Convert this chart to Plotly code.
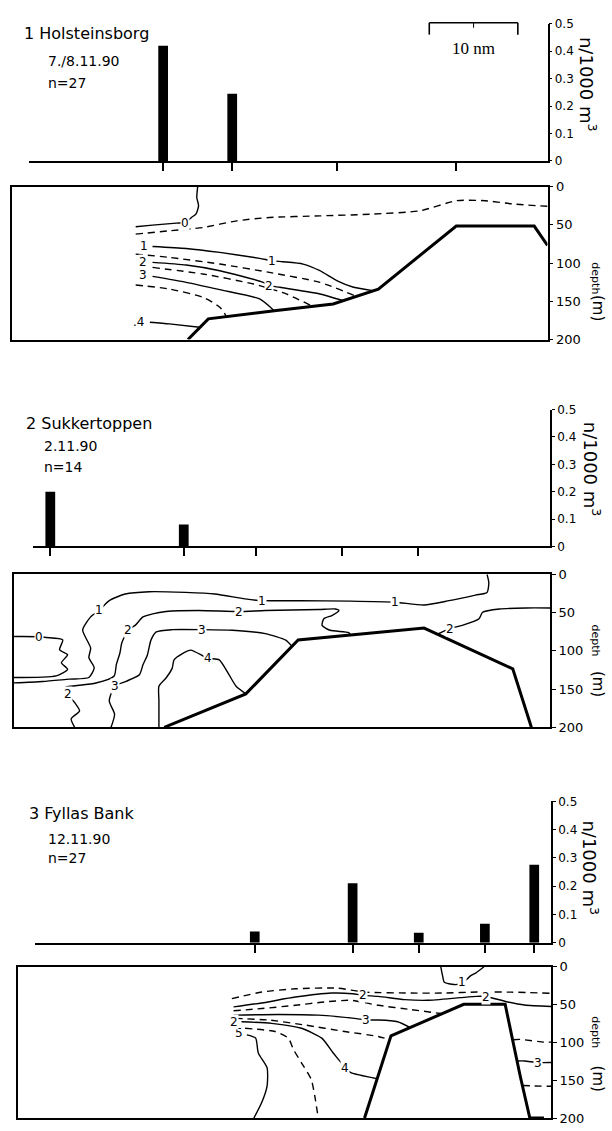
import plotly.graph_objects as go

W, H = 612, 1131
XMAX = 60.5          # section length (nm)
FONT = "DejaVu Sans"

# ---------------- Panel 1: Holsteinsborg ----------------
p1_title = "1 Holsteinsborg"
p1_date = "7./8.11.90"
p1_n = "n=27"
p1_stations = [17.1, 24.9, 36.7, 50.2]
p1_counts = [0.42, 0.245, 0.0, 0.0]

p1_bottom_x = [19.9, 22.2, 29.9, 36.3, 41.4, 50.2, 59.0, 60.5]
p1_bottom_d = [200, 173, 162, 153.5, 134, 51.6, 51.6, 77]

p1_c0_x = [21.0, 20.9, 21.1, 20.8, 20.3, 19.6, 18.6, 15.9, 14.0]
p1_c0_d = [0, 14.3, 25.2, 36, 40.4, 47, 47.8, 50.4, 52.6]
p1_c05_x = [14.0, 17.8, 21.6, 25.4, 29.1, 34.8, 40.5, 46.1, 50.2, 53.5, 56.6, 60.5]
p1_c05_d = [62.2, 57.8, 53.5, 44.8, 40.4, 38.3, 36.1, 31.7, 18.5, 18.5, 22.8, 25.8]
p1_c1_x = [15.9, 19.7, 23.5, 28.0, 29.4, 30.6, 32.9, 34.8, 36.7, 38.6, 40.8]
p1_c1_d = [78.3, 80.9, 86.1, 93.9, 97, 98.3, 101.3, 110, 123, 131.7, 136]
p1_c15_x = [14.0, 17.8, 23.5, 29.1, 34.8, 38.8]
p1_c15_d = [88.3, 92.6, 101.3, 112.2, 125.2, 143]
p1_c2_x = [15.9, 19.7, 23.5, 28.4, 29.1, 30.3, 34.8, 37.4]
p1_c2_d = [99.1, 102.6, 110, 125.2, 129.6, 131.7, 140.4, 149]
p1_c25_x = [15.9, 21.6, 27.3, 31.0, 33.7]
p1_c25_d = [105.7, 114.3, 127.4, 140.4, 155]
p1_c3_x = [15.9, 19.7, 23.5, 28.0, 29.6]
p1_c3_d = [117.4, 125.2, 134.8, 147, 162]
p1_c35_x = [14.0, 17.8, 21.6, 23.5, 24.2]
p1_c35_d = [128.7, 133.9, 144.8, 157.8, 169]
p1_c4_x = [15.6, 17.8, 21.2]
p1_c4_d = [177.4, 179.6, 183.9]

p1_lab_text = ["0", "1", "1", "2", "2", "3", ".4"]
p1_lab_x = [19.6, 14.9, 29.4, 14.8, 29.1, 14.8, 14.3]
p1_lab_d = [47, 77.4, 97, 99.1, 129.6, 115.7, 176.5]

# ---------------- Panel 2: Sukkertoppen ----------------
p2_title = "2 Sukkertoppen"
p2_date = "2.11.90"
p2_n = "n=14"
p2_stations = [4.15, 19.2, 27.3, 37.0, 45.6]
p2_counts = [0.20, 0.08, 0.0, 0.0, 0.0]

p2_bottom_x = [17.0, 26.2, 32.1, 46.3, 56.3, 58.4]
p2_bottom_d = [200, 156.3, 85.7, 70.2, 123.5, 200]

p2_c0_x = [0, 2.87, 3.7, 5.55, 5.2, 6.1, 5.4, 6.1, 4.8, 0]
p2_c0_d = [81.3, 81.5, 82.5, 85.6, 98.5, 105, 115.6, 124.2, 132.7, 134.9]
p2_c1_x = [0, 3.3, 6.3, 8.5, 9.1, 8.5, 8.7, 7.8, 8.7, 9.66, 10.8, 12.6, 15.3, 19.4, 22.7,
           26.1, 28.0, 32.2, 38.0, 43.0, 46.3, 49.1, 52.1, 53.4, 53.6, 53.4]
p2_c1_d = [141.9, 140, 137, 134.9, 122, 109, 96.3, 72.8, 55.6, 47.1, 34.3, 25.7, 22.7, 23.6, 25.7,
           32.1, 34.3, 34.4, 35, 36.4, 40, 34.4, 27.1, 23.7, 10.8, 0]
p2_c2_x = [6.9, 6.5, 7.45, 6.9, 6.1, 5.8, 6.7, 9.3, 11.35, 11.6, 12.0, 12.2, 12.9, 13.75, 14.6,
           15.7, 17.2, 20.9, 25.4, 28.4, 34.4, 36.3, 36.7, 35.9, 35.0, 34.8, 35.7, 37.8, 38.0]
p2_c2_d = [200, 189, 178.5, 167.7, 157, 148, 146, 142, 132.8, 117.8, 102.8, 90, 73.1, 66.4, 55.7,
           51.6, 48.6, 47.3, 48.6, 47.3, 46, 45.2, 47.3, 53.8, 58, 66.7, 73.1, 76.1, 79]
p2_c2r_x = [47.8, 49.2, 50.6, 52.5, 52.9, 54.8, 57.8, 60.5]
p2_c2r_d = [78.3, 71, 66.7, 58, 49.5, 45.2, 43.9, 43.9]
p2_c3_x = [11.0, 11.4, 10.8, 11.4, 12.7, 14.2, 14.6, 15.1, 15.5, 16.1, 17.9, 21.3, 24.7, 28.4, 30.7, 31.4]
p2_c3_d = [200, 182.8, 165.6, 146.2, 139.8, 131.2, 118.3, 105.4, 86, 75.3, 72.3, 72.3, 73.1, 77.4, 86, 94.1]
p2_c4_x = [16.4, 16.4, 16.4, 17.2, 17.9, 18.1, 19.1, 20.0, 21.9, 23.2, 24.3, 25.1, 26.2]
p2_c4_d = [200, 165.6, 146.2, 135.5, 122.6, 111.8, 103.2, 99, 109.7, 111.8, 131.2, 146.2, 156.1]

p2_lab_text = ["0", "1", "1", "1", "2", "2", "2", "2", "3", "3", "4"]
p2_lab_x = [2.87, 9.66, 28.0, 43.0, 6.1, 12.9, 25.4, 49.2, 11.4, 21.3, 21.9]
p2_lab_d = [81.5, 47.1, 34.3, 36.4, 157, 73.1, 48.6, 71, 146.2, 72.3, 109.7]

# ---------------- Panel 3: Fyllas Bank ----------------
p3_title = "3 Fyllas Bank"
p3_date = "12.11.90"
p3_n = "n=27"
p3_stations = [26.9, 38.0, 45.5, 53.0, 58.6]
p3_counts = [0.04, 0.21, 0.035, 0.067, 0.276]

p3_bottom_x = [39.35, 42.35, 50.6, 55.3, 57.0, 58.1, 59.7]
p3_bottom_d = [200, 91.3, 49.6, 49.6, 144, 200, 200]

p3_c1_x = [48.0, 48.2, 48.4, 49.5, 50.4, 51.0, 51.4, 52.0, 52.9]
p3_c1_d = [0, 11.7, 20.4, 23.5, 22, 16, 11.7, 8, 0]
p3_c15_x = [24.3, 27.7, 31.5, 36.3, 39.35, 44.6, 48.4, 52.1, 56.0, 60.5]
p3_c15_d = [42.1, 33.4, 29.1, 28.2, 33.4, 34.7, 34.7, 33.4, 33.5, 35]
p3_c2_x = [24.5, 27.7, 31.5, 35.6, 38.0, 39.2, 40.9, 43.9, 46.5, 50.2, 52.1, 53.1, 55.6, 57.5, 60.5]
p3_c2_d = [53, 47.8, 40, 34.7, 35.6, 37.8, 39.1, 43.4, 44.3, 40.8, 39.1, 39.3, 46.5, 50.5, 52.5]
p3_c25_x = [24.5, 27.7, 31.5, 34.8, 37.8, 40.9, 44.6, 48.0]
p3_c25_d = [58.2, 55.2, 50.9, 46.5, 44.3, 50.9, 56.5, 61.7]
p3_c3_x = [24.5, 29.6, 34.1, 38.2, 39.5, 40.9, 43.1, 44.5]
p3_c3_d = [63.9, 63, 63.9, 68.2, 70.4, 70.4, 72.6, 80]
p3_c35_x = [24.7, 28.5, 32.6, 37.1, 40.9, 42.2]
p3_c35_d = [68.2, 70.4, 77, 85.6, 92.1, 96.5]
p3_c4_x = [25.4, 28.8, 32.2, 34.5, 35.8, 36.7, 37.1, 37.8, 40.8]
p3_c4_d = [72.6, 74.8, 81.3, 94.3, 113.9, 126.9, 133.5, 140, 148]
p3_c45_x = [25.8, 29.2, 30.7, 31.3, 32.2, 33.3, 33.7, 34.1]
p3_c45_d = [81.3, 85.6, 94.3, 109.6, 126.9, 148.7, 170.4, 200]
p3_c5_x = [26.0, 27.0, 27.3, 28.3, 28.3, 27.7, 26.8]
p3_c5_d = [90, 94.3, 113.9, 133.5, 157.3, 179.1, 200]
p3_r1_x = [56.2, 57.0, 59.7, 60.5]
p3_r1_d = [96.5, 96, 99.6, 99.6]
p3_r2_x = [56.7, 57.5, 59.0, 60.5]
p3_r2_d = [124.5, 124.5, 126.6, 126.6]
p3_r3_x = [57.3, 58.5, 60.5]
p3_r3_d = [157, 157.5, 158]

p3_lab_text = ["1", "2", "2", "3", "3", "4", "5", "2"]
p3_lab_x = [50.4, 39.2, 53.1, 39.5, 59.0, 37.1, 25.1, 24.6]
p3_lab_d = [20.4, 37.8, 39.3, 70.4, 126.6, 133.5, 86.9, 72.6]

bar_ticks = [0, 0.1, 0.2, 0.3, 0.4, 0.5]
bar_ticktext = ["0", "0.1", "0.2", "0.3", "0.4", "0.5"]
depth_ticks = [0, 50, 100, 150, 200]
scale_len = 10  # nm
scale_start = 47.15

SOLID, DASH = "solid", "7px,5px"

panels = [
    dict(title=p1_title, date=p1_date, n=p1_n, st=p1_stations, cnt=p1_counts,
         bot=(p1_bottom_x, p1_bottom_d),
         lines=[(p1_c0_x, p1_c0_d, SOLID), (p1_c05_x, p1_c05_d, DASH),
                (p1_c1_x, p1_c1_d, SOLID), (p1_c15_x, p1_c15_d, DASH),
                (p1_c2_x, p1_c2_d, SOLID), (p1_c25_x, p1_c25_d, DASH),
                (p1_c3_x, p1_c3_d, SOLID), (p1_c35_x, p1_c35_d, DASH),
                (p1_c4_x, p1_c4_d, SOLID)],
         labs=(p1_lab_text, p1_lab_x, p1_lab_d),
         # layout in pixels
         bar_l=29.3, bar_r=547.5, bar_top=17, bar_bot=156,
         box_l=11.7, box_r=547.5, box_top=182, box_bot=337,
         title_xy=(22, 27), date_xy=(46, 55), n_xy=(46, 77),
         unit_xy=(588, 78), dep_y=(275, 305)),
    dict(title=p2_title, date=p2_date, n=p2_n, st=p2_stations, cnt=p2_counts,
         bot=(p2_bottom_x, p2_bottom_d),
         lines=[(p2_c0_x, p2_c0_d, SOLID), (p2_c1_x, p2_c1_d, SOLID),
                (p2_c2_x, p2_c2_d, SOLID), (p2_c2r_x, p2_c2r_d, SOLID),
                (p2_c3_x, p2_c3_d, SOLID), (p2_c4_x, p2_c4_d, SOLID)],
         labs=(p2_lab_text, p2_lab_x, p2_lab_d),
         bar_l=33.2, bar_r=550, bar_top=408, bar_bot=546.7,
         box_l=13.5, box_r=550, box_top=575, box_bot=730,
         title_xy=(24, 422), date_xy=(42, 445), n_xy=(42, 466),
         unit_xy=(592, 468), dep_y=(642, 686)),
    dict(title=p3_title, date=p3_date, n=p3_n, st=p3_stations, cnt=p3_counts,
         bot=(p3_bottom_x, p3_bottom_d),
         lines=[(p3_c1_x, p3_c1_d, SOLID), (p3_c15_x, p3_c15_d, DASH),
                (p3_c2_x, p3_c2_d, SOLID), (p3_c25_x, p3_c25_d, DASH),
                (p3_c3_x, p3_c3_d, SOLID), (p3_c35_x, p3_c35_d, DASH),
                (p3_c4_x, p3_c4_d, SOLID), (p3_c45_x, p3_c45_d, DASH),
                (p3_c5_x, p3_c5_d, SOLID), (p3_r1_x, p3_r1_d, DASH),
                (p3_r2_x, p3_r2_d, SOLID), (p3_r3_x, p3_r3_d, DASH)],
         labs=(p3_lab_text, p3_lab_x, p3_lab_d),
         bar_l=35.1, bar_r=551, bar_top=805, bar_bot=948.3,
         box_l=17.6, box_r=551, box_top=972.7, box_bot=1126,
         title_xy=(27, 817), date_xy=(46, 843), n_xy=(46, 862),
         unit_xy=(590, 872), dep_y=(1039, 1086)),
]


def px(x):
    return x / W


def py(y):
    return 1 - y / H


fig = go.Figure()
layout = dict(width=W, height=H, margin=dict(l=0, r=0, t=0, b=0),
              paper_bgcolor="white", plot_bgcolor="white", showlegend=False,
              font=dict(family=FONT, color="black"))
annotations = []
shapes = []

for i, p in enumerate(panels):
    bx = 2 * i + 1  # bar axes index
    cx = 2 * i + 2  # section axes index
    bxs, bys = f"x{bx}", f"y{bx}"
    cxs, cys = f"x{cx}", f"y{cx}"
    scale = (p["box_r"] - p["box_l"]) / XMAX
    xr0 = XMAX - (p["bar_r"] - p["bar_l"]) / scale

    fig.add_trace(go.Bar(x=p["st"], y=p["cnt"], width=1.1, marker=dict(color="black", line=dict(width=0)),
                         xaxis=bxs, yaxis=bys, hoverinfo="skip"))
    for xs, ds, dash in p["lines"]:
        fig.add_trace(go.Scatter(x=xs, y=ds, mode="lines", xaxis=cxs, yaxis=cys,
                                 line=dict(color="black", width=1.4, dash=dash, shape="spline", smoothing=0.6),
                                 hoverinfo="skip"))
    fig.add_trace(go.Scatter(x=p["bot"][0], y=p["bot"][1], mode="lines", xaxis=cxs, yaxis=cys,
                             line=dict(color="black", width=3), hoverinfo="skip"))

    k = "" if bx == 1 else str(bx)
    layout[f"xaxis{k}"] = dict(domain=[px(p["bar_l"]), px(p["bar_r"])], range=[xr0, XMAX],
                               anchor=bys, showline=True, linewidth=1.6, linecolor="black",
                               ticks="outside", tickvals=p["st"], ticklen=8, tickwidth=1.5,
                               tickcolor="black", showticklabels=False, showgrid=False,
                               zeroline=False, fixedrange=True)
    layout[f"yaxis{k}"] = dict(domain=[py(p["bar_bot"]), py(p["bar_top"])], range=[0, 0.5],
                               anchor=bxs, side="right", showline=True, linewidth=1.6,
                               linecolor="black", ticks="outside", ticklen=3, tickwidth=1.2,
                               tickcolor="black", tickvals=bar_ticks, ticktext=bar_ticktext,
                               tickfont=dict(size=12, family=FONT), showgrid=False,
                               zeroline=False, fixedrange=True)
    layout[f"xaxis{cx}"] = dict(domain=[px(p["box_l"]), px(p["box_r"])], range=[0, XMAX],
                                anchor=cys, showline=True, mirror=True, linewidth=1.6,
                                linecolor="black", ticks="", showticklabels=False,
                                showgrid=False, zeroline=False, fixedrange=True)
    layout[f"yaxis{cx}"] = dict(domain=[py(p["box_bot"]), py(p["box_top"])], range=[200, 0],
                                anchor=cxs, side="right", showline=True, mirror=True,
                                linewidth=1.6, linecolor="black", ticks="outside", ticklen=4,
                                tickwidth=1.2, tickcolor="black", tickvals=depth_ticks,
                                tickfont=dict(size=13, family=FONT), showgrid=False,
                                zeroline=False, fixedrange=True)

    # contour labels
    for t, lx, ld in zip(*p["labs"]):
        annotations.append(dict(x=lx, y=ld, xref=cxs, yref=cys, text=t, showarrow=False,
                                font=dict(size=12, family=FONT), bgcolor="white", borderpad=0))
    # titles
    annotations.append(dict(x=px(p["title_xy"][0]), y=py(p["title_xy"][1]), xref="paper", yref="paper",
                            text=p["title"], showarrow=False, xanchor="left", yanchor="middle",
                            font=dict(size=16, family=FONT)))
    annotations.append(dict(x=px(p["date_xy"][0]), y=py(p["date_xy"][1]), xref="paper", yref="paper",
                            text=p["date"], showarrow=False, xanchor="left", yanchor="middle",
                            font=dict(size=14, family=FONT)))
    annotations.append(dict(x=px(p["n_xy"][0]), y=py(p["n_xy"][1]), xref="paper", yref="paper",
                            text=p["n"], showarrow=False, xanchor="left", yanchor="middle",
                            font=dict(size=14, family=FONT)))
    annotations.append(dict(x=px(p["unit_xy"][0]), y=py(p["unit_xy"][1]), xref="paper", yref="paper",
                            text="n/1000 m<sup>3</sup>", textangle=90, showarrow=False,
                            xanchor="center", yanchor="middle", font=dict(size=18, family=FONT)))
    annotations.append(dict(x=px(596), y=py(p["dep_y"][0]), xref="paper", yref="paper",
                            text="depth", textangle=90, showarrow=False,
                            xanchor="center", yanchor="middle", font=dict(size=11, family=FONT)))
    annotations.append(dict(x=px(598), y=py(p["dep_y"][1]), xref="paper", yref="paper",
                            text="(m)", textangle=90, showarrow=False,
                            xanchor="center", yanchor="middle", font=dict(size=15, family=FONT)))

# scale bar (10 nm) in panel 1, drawn in section x-units
sb_y0, sb_y1 = py(16), py(28)
shapes.append(dict(type="line", xref="x2", yref="paper", x0=scale_start, x1=scale_start + scale_len,
                   y0=sb_y0, y1=sb_y0, line=dict(color="black", width=1.6)))
for sx in [scale_start, scale_start + scale_len]:
    shapes.append(dict(type="line", xref="x2", yref="paper", x0=sx, x1=sx, y0=sb_y0, y1=sb_y1,
                       line=dict(color="black", width=1.6)))
shapes.append(dict(type="line", xref="x2", yref="paper", x0=scale_start + scale_len / 2,
                   x1=scale_start + scale_len / 2, y0=sb_y0, y1=py(21),
                   line=dict(color="black", width=1)))
annotations.append(dict(x=scale_start + scale_len / 2, y=py(42), xref="x2", yref="paper",
                        text="10 nm", showarrow=False, xanchor="center", yanchor="middle",
                        font=dict(size=17, family="Liberation Serif")))

layout["annotations"] = annotations
layout["shapes"] = shapes
fig.update_layout(**layout)
fig.write_html("out.html")
